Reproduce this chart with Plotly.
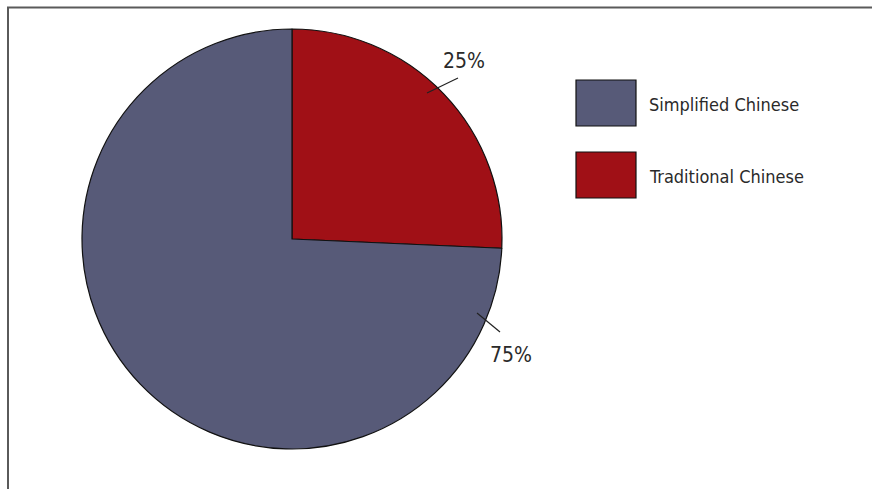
import plotly.graph_objects as go

W, H = 872, 489

labels = ["Simplified Chinese", "Traditional Chinese"]
values = [74.3, 25.7]
pct_text = ["75%", "25%"]
colors = ["#575a78", "#a01016"]

# pie geometry (pixels)
cx, cy, r = 292, 239, 210

def px(x):
    return x / W

def py(y):
    return 1 - y / H

FONT = "DejaVu Sans Condensed, Liberation Sans Narrow, Liberation Sans, sans-serif"

fig = go.Figure()
fig.add_trace(go.Pie(
    labels=labels[::-1],
    values=values[::-1],
    sort=False,
    direction="clockwise",
    rotation=0,
    marker=dict(colors=colors[::-1], line=dict(color="#111111", width=1.2)),
    textinfo="none",
    showlegend=False,
    domain=dict(x=[px(cx - r), px(cx + r)], y=[py(cy + r), py(cy - r)]),
))

shapes = []
annotations = []

# outer border
shapes.append(dict(type="rect", xref="paper", yref="paper",
                   x0=px(8), x1=px(W + 20), y0=py(H + 20), y1=py(7.5),
                   line=dict(color="#5a5a5a", width=2), fillcolor="rgba(0,0,0,0)"))

# leader lines and percentage labels (Simplified, Traditional)
leader = [((477, 313), (500, 332)), ((427, 93), (458, 78))]
label_pos = [(511, 355), (464, 61)]
for i in range(len(values)):
    (x0, y0), (x1, y1) = leader[i]
    shapes.append(dict(type="line", xref="paper", yref="paper",
                       x0=px(x0), y0=py(y0), x1=px(x1), y1=py(y1),
                       line=dict(color="#222222", width=1.2)))
    lx, ly = label_pos[i]
    annotations.append(dict(x=px(lx), y=py(ly), xref="paper", yref="paper",
                            text=pct_text[i], showarrow=False,
                            font=dict(family=FONT, size=21, color="#2a2a2a"),
                            xanchor="center", yanchor="middle"))

# custom legend
legend_y = [103, 175]
for i in range(len(labels)):
    yc = legend_y[i]
    shapes.append(dict(type="rect", xref="paper", yref="paper",
                       x0=px(576), x1=px(636), y0=py(yc + 23), y1=py(yc - 23),
                       line=dict(color="#111111", width=1.2), fillcolor=colors[i]))
    annotations.append(dict(x=px(647), y=py(yc + 1), xref="paper", yref="paper",
                            text=labels[i], showarrow=False,
                            font=dict(family=FONT, size=18, color="#2a2a2a"),
                            xanchor="left", yanchor="middle"))

fig.update_layout(
    width=W, height=H,
    margin=dict(l=0, r=0, t=0, b=0),
    paper_bgcolor="white",
    plot_bgcolor="white",
    shapes=shapes,
    annotations=annotations,
)

fig.write_html("out.html")
